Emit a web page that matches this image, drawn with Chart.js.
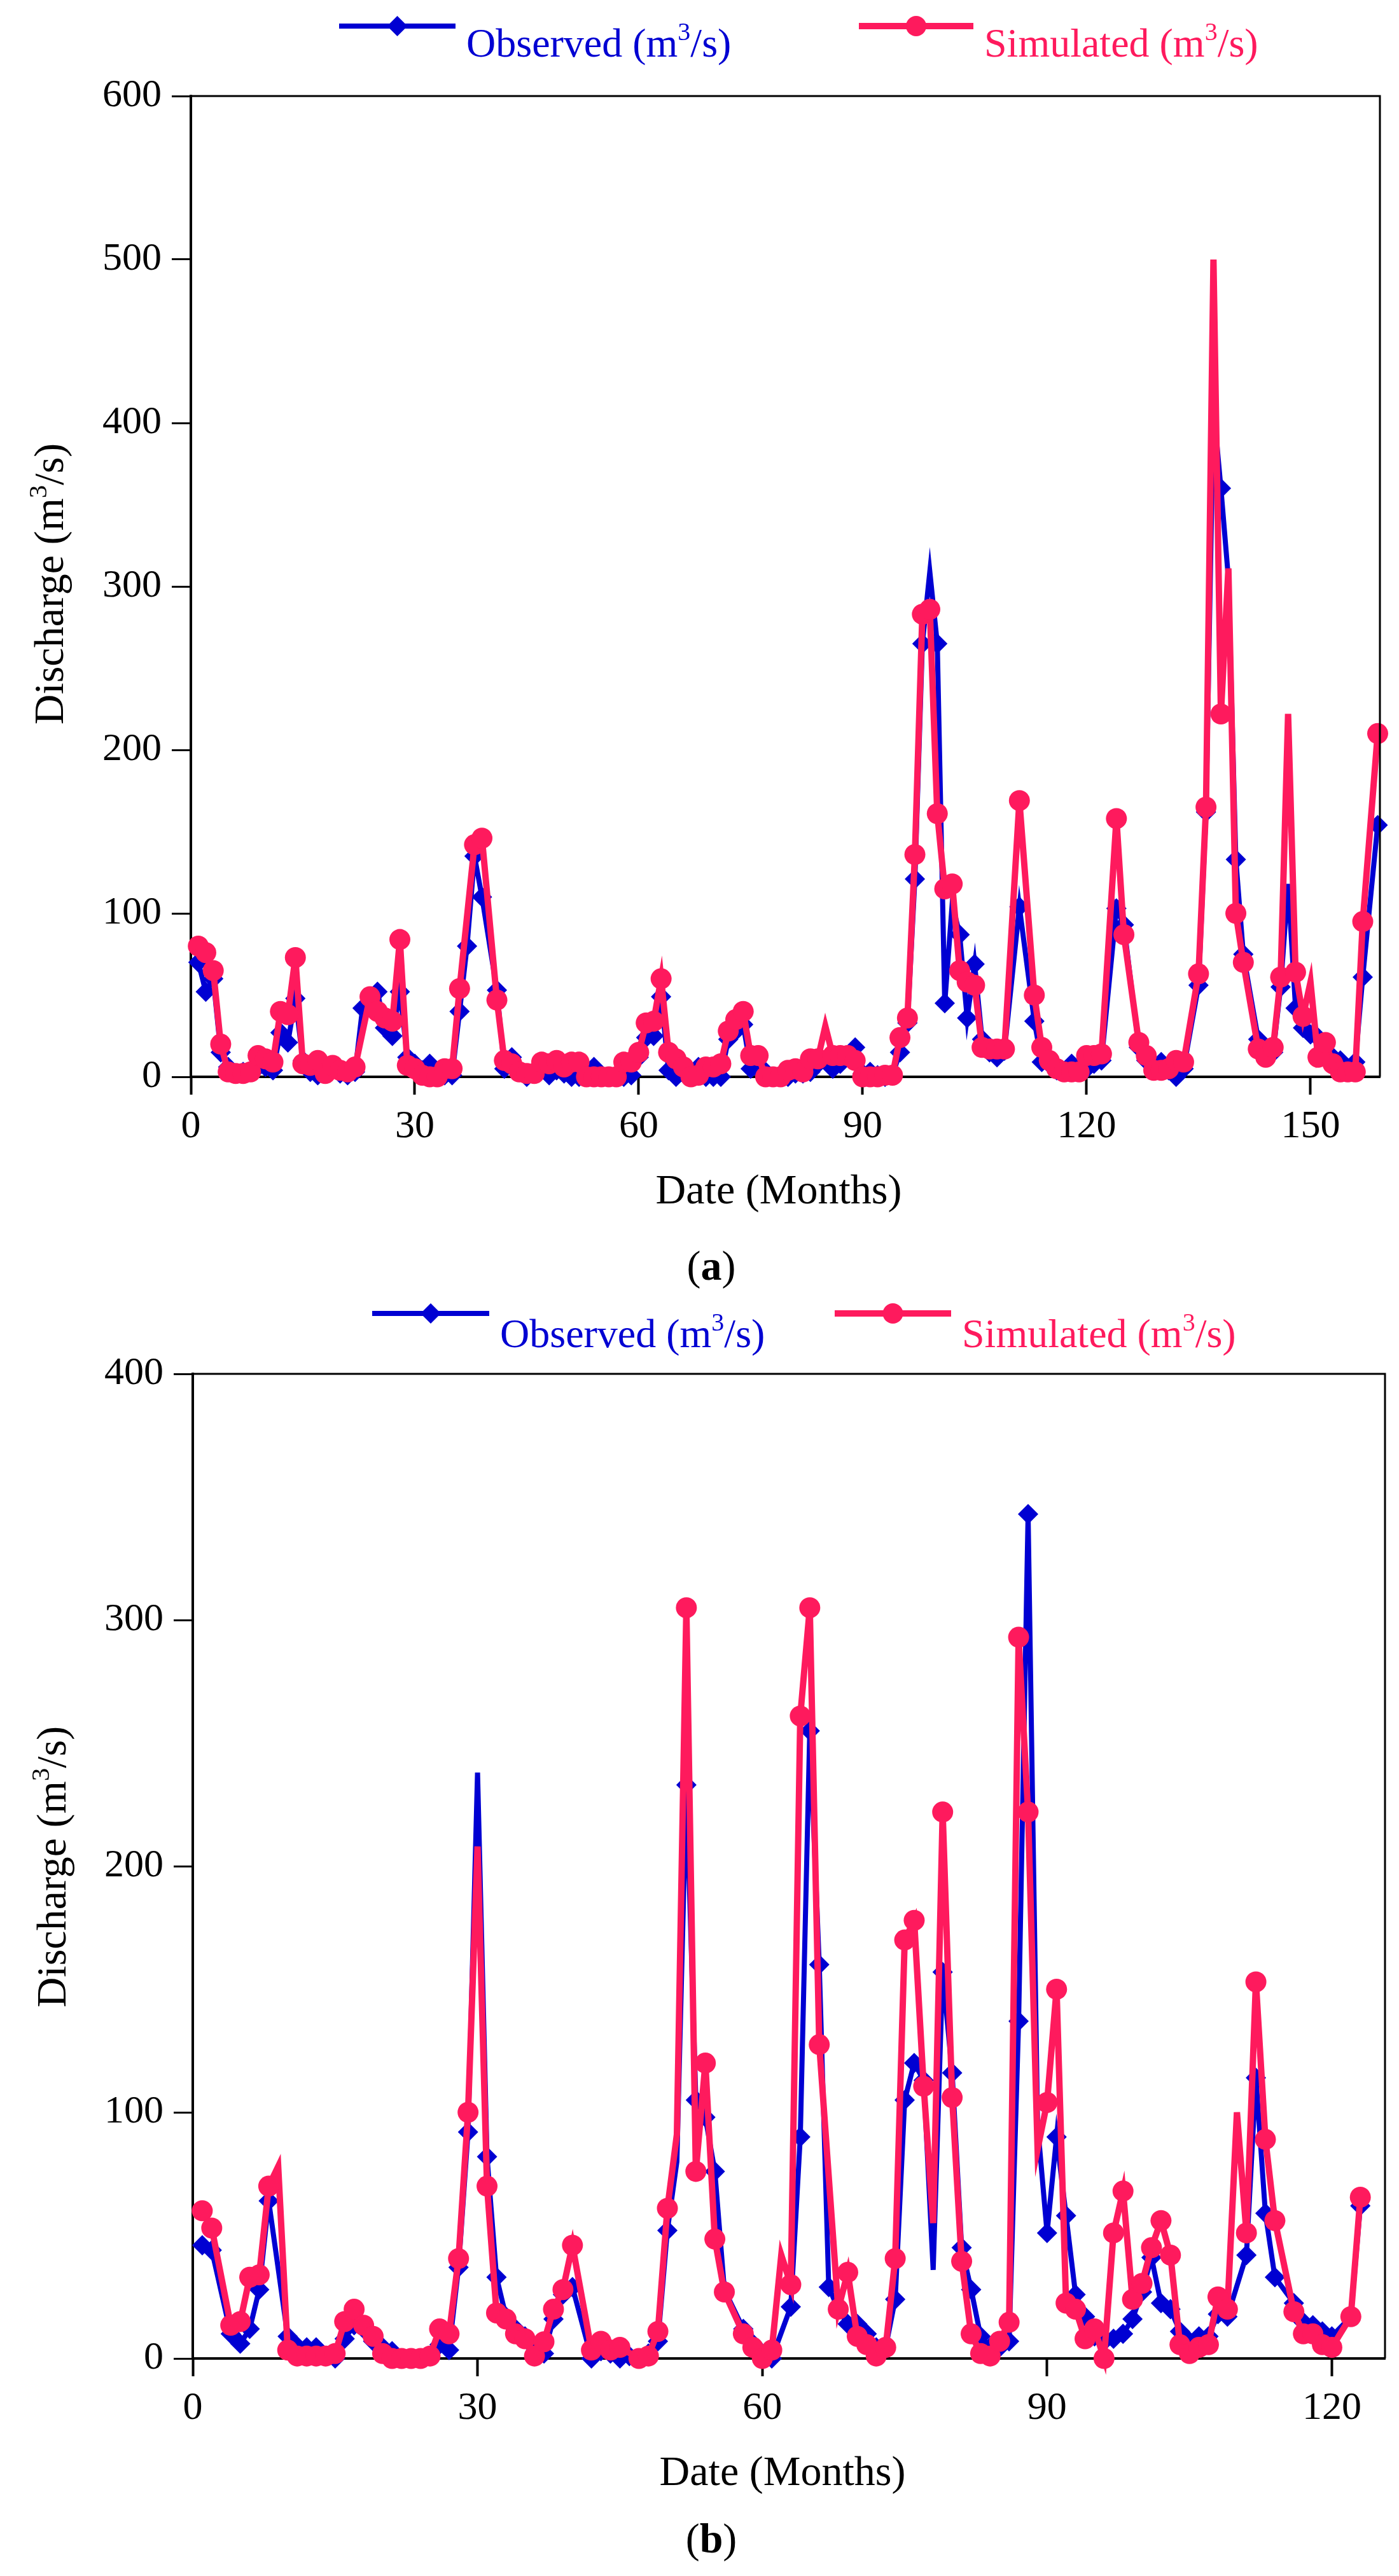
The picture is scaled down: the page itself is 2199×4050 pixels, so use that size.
<!DOCTYPE html>
<html>
<head>
<meta charset="utf-8">
<script src="https://cdn.jsdelivr.net/npm/chart.js@4.4.0/dist/chart.umd.min.js"></script>
<style>
  html, body { margin: 0; padding: 0; background: #fff; }
  canvas { position: absolute; left: 0; display: block; }
  #chartA { top: 0; }
  #chartB { top: 2030px; }
</style>
</head>
<body>
<canvas id="chartA" width="2199" height="2030"></canvas>
<canvas id="chartB" width="2199" height="2020"></canvas>
<script>
// ---- data (null = no vertex at that month) ----
const seriesNames = ["Observed (m³/s)", "Simulated (m³/s)"]
const xTitle = "Date (Months)"
const yTitle = "Discharge (m³/s)"

// panel (a): 159 months
const obsA = [70, 52, 60, 15, 6, 2, 3, 4, 6, 6, 4, 27, 21, 48, 10, 3, 1, 3, 5, 2,
  1, 3, 42, 45, 52, 30, 25, 52, 12, 8, 4, 8, 2, 1, 1, 40, 80, 135, 110, null,
  53, 5, 12, 3, 0, 2, 5, 1, 4, 2, 0, 0, 0, 6, 1, 0, 0, 0, 1, 12,
  24, 25, 49, 4, 0, 2, 1, 6, 0, 0, 0, 23, 28, 32, 5, 5, 3, 0, 1, 0,
  2, 2, 3, 8, 10, 5, 8, 12, 18, 2, 3, 1, 0, 1, 15, 33, 121, 265, 309, 265,
  45, 106, 87, 36, 69, 23, 15, 12, 16, null, 104, null, 34, 9, 8, 4, 3, 8, 4, 5,
  8, 10, null, 103, 93, null, 18, 10, 5, 9, 4, 0, 5, null, 56, 162, 410, 360, 305, 133,
  75, null, 23, 15, 15, 55, 118, 42, 30, 26, 24, 15, 12, 10, 5, 9, 61, null, 154]
const simA = [80, 76, 65, 20, 3, 2, 2, 3, 13, 11, 9, 40, 38, 73, 8, 7, 10, 2, 7, 4,
  3, 6, null, 49, 40, 36, 34, 84, 7, 5, 1, 0, 0, 5, 5, 54, null, 142, 146, null,
  47, 10, 8, 3, 2, 2, 9, 8, 10, 6, 9, 9, 0, 0, 0, 0, 0, 9, 9, 15,
  33, 34, 60, 15, 11, 6, 0, 1, 6, 6, 8, 28, 35, 40, 13, 13, 0, 0, 0, 4,
  5, 3, 11, 11, 31, 13, 13, 13, 10, 0, 0, 0, 1, 1, 24, 36, 136, 283, 286, 161,
  115, 118, 65, 58, 56, 18, 17, 17, 17, null, 169, null, 50, 18, 10, 5, 3, 3, 3, 13,
  13, 14, null, 158, 87, null, 21, 13, 4, 4, 5, 10, 9, null, 63, 165, 500, 222, 311, 100,
  70, null, 17, 12, 18, 61, 222, 64, 37, 58, 12, 21, 8, 3, 3, 3, 95, null, 210]
const obsPeaksA = [99, 102, 137, 139, 147]        // vertices drawn without a marker
const simPeaksA = [85, 137, 139, 147, 150]
const xTicksA = [0, 30, 60, 90, 120, 150]
const yTicksA = [0, 100, 200, 300, 400, 500, 600]

// panel (b): 123 months
const obsB = [46, 44, null, 10, 6, 12, 28, 64, null, 9, 5, 4.5, 4.5, 1, 0, 8, 13.5, 12, 7, 4.5,
  3, 0, 0, 0, 1, 5.6, 3.4, 37, 92, 238, 82, 33, 17, 12, 9, 4.5, 2, 16, 26, 29,
  null, 0, 3, 2, 0, 1, 0, 2, 7, 52, 80, 233, 105, 98, 76, 28, null, 12, 6, 2,
  0, null, 21, 90, 255, 160, 29, 20, 14, 14, 10, 4.5, 4.5, 24, 105, 120, 113, 36, 157, 116,
  45, 28, 9, 4.5, 4.5, 7, 137, 343, 95, 51, 90, 58, 26, 17, 9, 7, 8, 10, 16, 27,
  41, 22.5, 20, 11, 7, 9, 9, 18, 17, null, 42, 114, 59, 33, null, 22.5, 14.7, 13.5, 11, 9,
  null, 17, 62]
const simB = [60, 53, null, 13.5, 15, 33, 34, 70, 78, 3.4, 1, 1, 1, 1, 2, 15, 20, 13.5, 9, 2,
  0, 0, 0, 0, 1, 12, 10, 40.6, 100, 208, 70, 18.5, 16, 10, 8, 1, 6.8, 20, 28, 46,
  null, 3.4, 7, 3.4, 4.5, null, 0, 1, 11, 61, 91, 305, 76, 120, 48.5, 27, null, 10, 4.5, 0,
  3.4, 42, 30, 261, 305, 127.5, null, 20, 35, 9, 5.6, 1, 4.5, 40.6, 170, 178, 110.6, 55, 222, 106,
  39.5, 10, 2, 1, 7, 14.7, 293, 222, 85, 104, 150, 22.5, 20, 8, 12, 0, 51, 68, 24, 30.5,
  45, 56, 42, 5.6, 2, 4.5, 5.6, 25, 20, 100, 51, 153, 89, 56, null, 19, 10, 10, 5.6, 4.5,
  null, 17, 65.5]
const obsPeaksB = [30, 51, 78, 89]
const simPeaksB = [9, 30, 51, 62, 78, 89, 110]
const xTicksB = [0, 30, 60, 90, 120]
const yTicksB = [0, 100, 200, 300, 400]

const BLUE = "#0000d2"
const PINK = "#fe1a5d"
const FONT = "'Liberation Serif', 'Times New Roman', serif"

// text with a raised small "3" wherever "³" appears
function supWidth(ctx, text, size) {
  const parts = text.split("³")
  let w = 0
  parts.forEach((p, i) => {
    ctx.font = size + "px " + FONT
    w += ctx.measureText(p).width
    if (i < parts.length - 1) {
      ctx.font = Math.round(size * 0.62) + "px " + FONT
      w += ctx.measureText("3").width
    }
  })
  return w
}
function drawSup(ctx, text, x, y, size) {
  const parts = text.split("³")
  let cx = x
  ctx.textAlign = "left"
  ctx.textBaseline = "alphabetic"
  parts.forEach((p, i) => {
    ctx.font = size + "px " + FONT
    ctx.fillText(p, cx, y)
    cx += ctx.measureText(p).width
    if (i < parts.length - 1) {
      ctx.font = Math.round(size * 0.62) + "px " + FONT
      ctx.fillText("3", cx, y - size * 0.4)
      cx += ctx.measureText("3").width
    }
  })
}

// frame, legend, axis titles and panel letter
const decor = {
  id: "decor",
  afterDraw(chart, args, o) {
    const { ctx, chartArea: a } = chart
    ctx.save()
    ctx.strokeStyle = "#000"
    ctx.lineWidth = 3
    ctx.beginPath()
    ctx.moveTo(a.left, a.top)
    ctx.lineTo(a.right, a.top)
    ctx.lineTo(a.right, a.bottom)
    ctx.stroke()

    // legend
    o.legend.forEach((it, i) => {
      const ds = chart.data.datasets[i]
      ctx.strokeStyle = ds.borderColor
      ctx.lineWidth = ds.borderWidth
      ctx.beginPath()
      ctx.moveTo(it.x1, o.lineY)
      ctx.lineTo(it.x2, o.lineY)
      ctx.stroke()
      ctx.fillStyle = ds.borderColor
      Chart.helpers.drawPoint(ctx, { pointStyle: ds.pointStyle, radius: 16, rotation: 0, borderWidth: 0 }, (it.x1 + it.x2) / 2, o.lineY)
      ctx.fillStyle = ds.borderColor
      drawSup(ctx, ds.label, it.tx, o.textY, 64)
    })

    ctx.fillStyle = "#000"
    // x title
    ctx.font = "66px " + FONT
    ctx.textAlign = "center"
    ctx.textBaseline = "alphabetic"
    ctx.fillText(xTitle, o.xTitle[0], o.xTitle[1])

    // y title, rotated
    ctx.save()
    ctx.translate(o.yTitle[0], o.yTitle[1])
    ctx.rotate(-Math.PI / 2)
    const w = supWidth(ctx, yTitle, 66)
    drawSup(ctx, yTitle, -w / 2, 0, 66)
    ctx.restore()

    // panel letter "(a)" with bold letter
    ctx.textAlign = "left"
    ctx.font = "66px " + FONT
    const wp = ctx.measureText("(").width
    ctx.font = "bold 66px " + FONT
    const wl = ctx.measureText(o.letter).width
    let px = o.letterPos[0] - (2 * wp + wl) / 2
    ctx.font = "66px " + FONT
    ctx.fillText("(", px, o.letterPos[1])
    ctx.font = "bold 66px " + FONT
    ctx.fillText(o.letter, px + wp, o.letterPos[1])
    ctx.font = "66px " + FONT
    ctx.fillText(")", px + wp + wl, o.letterPos[1])
    ctx.restore()
  },
}

function makeChart(id, obs, sim, obsPeaks, simPeaks, xTicks, yTicks, box, deco) {
  const months = obs.map((_, i) => i + 1)
  const pts = (vals) => vals.map((v, i) => ({ x: months[i], y: v }))
  const tickFont = { family: FONT, size: 62 }
  const canvas = document.getElementById(id)
  new Chart(canvas.getContext("2d"), {
    type: "line",
    data: {
      datasets: [
        {
          label: seriesNames[0],
          data: pts(obs),
          borderColor: BLUE,
          backgroundColor: BLUE,
          borderWidth: 8,
          pointStyle: "rectRot",
          pointRadius: (c) => (c.raw && obsPeaks.includes(c.raw.x) ? 0 : 16),
          pointBorderWidth: 0,
          pointBackgroundColor: BLUE,
          tension: 0,
          spanGaps: true,
          clip: false,
          order: 1,
        },
        {
          label: seriesNames[1],
          data: pts(sim),
          borderColor: PINK,
          backgroundColor: PINK,
          borderWidth: 10,
          pointStyle: "circle",
          pointRadius: (c) => (c.raw && simPeaks.includes(c.raw.x) ? 0 : 16.5),
          pointBorderWidth: 0,
          pointBackgroundColor: PINK,
          tension: 0,
          spanGaps: true,
          clip: false,
          order: 0,
        },
      ],
    },
    options: {
      responsive: false,
      devicePixelRatio: 1,
      animation: false,
      events: [],
      layout: { padding: { top: box.top, right: canvas.width - box.right, bottom: 0, left: 0 } },
      plugins: { legend: { display: false }, tooltip: { enabled: false }, decor: deco },
      scales: {
        x: {
          type: "linear",
          min: 0,
          max: box.xMax,
          afterBuildTicks: (s) => { s.ticks = xTicks.map((v) => ({ value: v })) },
          afterFit: (s) => { s.height = canvas.height - box.bottom },
          border: { display: true, color: "#000", width: 4 },
          grid: { display: true, drawOnChartArea: false, drawTicks: true, tickLength: 28, tickWidth: 4, tickColor: "#000" },
          ticks: { color: "#000", font: tickFont, padding: 14, maxRotation: 0, autoSkip: false },
        },
        y: {
          min: 0,
          max: yTicks[yTicks.length - 1],
          afterBuildTicks: (s) => { s.ticks = yTicks.map((v) => ({ value: v })) },
          afterFit: (s) => { s.width = box.left },
          border: { display: true, color: "#000", width: 4 },
          grid: { display: true, drawOnChartArea: false, drawTicks: true, tickLength: 30, tickWidth: 3, tickColor: "#000" },
          ticks: { color: "#000", font: tickFont, padding: 16, autoSkip: false },
        },
      },
    },
    plugins: [decor],
  })
}

makeChart("chartA", obsA, simA, obsPeaksA, simPeaksA, xTicksA, yTicksA,
  { left: 300, right: 2169, top: 151, bottom: 1693, xMax: 159.3 },
  {
    lineY: 41, textY: 89,
    legend: [{ x1: 533, x2: 716, tx: 733 }, { x1: 1350, x2: 1530, tx: 1547 }],
    xTitle: [1224, 1892], yTitle: [99, 918],
    letter: "a", letterPos: [1118, 2012],
  })

makeChart("chartB", obsB, simB, obsPeaksB, simPeaksB, xTicksB, yTicksB,
  { left: 303, right: 2177, top: 130, bottom: 1678, xMax: 125.6 },
  {
    lineY: 35, textY: 88,
    legend: [{ x1: 585, x2: 769, tx: 786 }, { x1: 1312, x2: 1495, tx: 1512 }],
    xTitle: [1230, 1877], yTitle: [103, 905],
    letter: "b", letterPos: [1118, 1983],
  })
</script>
</body>
</html>
